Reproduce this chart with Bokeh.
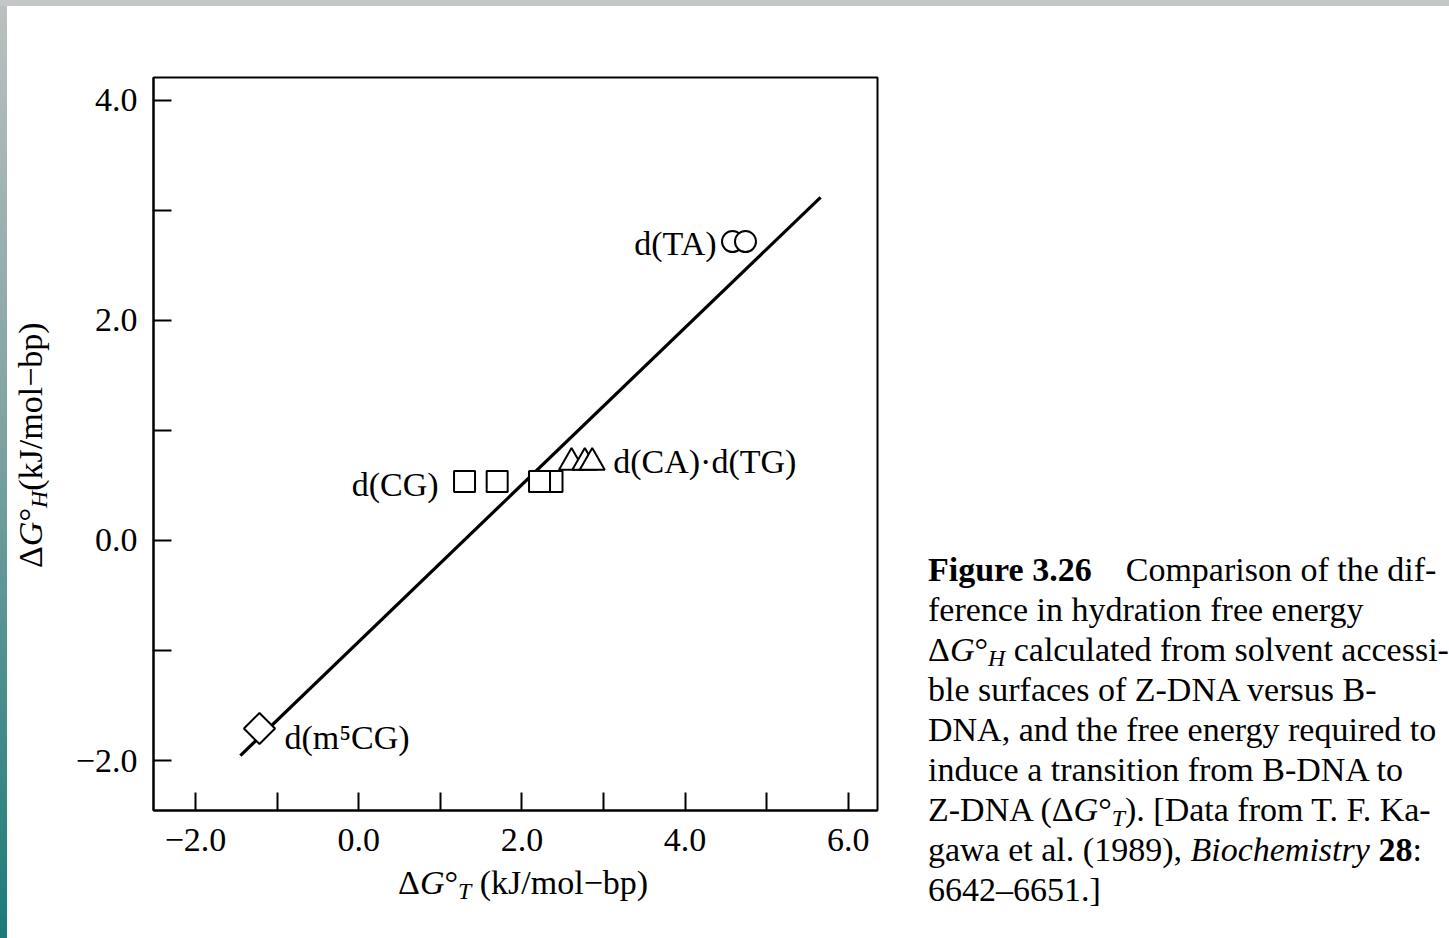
from math import pi
from bokeh.plotting import figure
from bokeh.models import Range1d, FixedTicker, Label, Div
from bokeh.layouts import row, column
from bokeh.embed import file_html
from bokeh.resources import INLINE

# ---- data ----
x_ticks = [-2, -1, 0, 1, 2, 3, 4, 5, 6]
x_tick_labels = ["−2.0", "", "0.0", "", "2.0", "", "4.0", "", "6.0"]
y_ticks = [-2, -1, 0, 1, 2, 3, 4]
y_tick_labels = ["−2.0", "", "0.0", "", "2.0", "", "4.0"]

fit_x = [-1.45, 5.66]
fit_y = [-1.955, 3.12]

m5cg_x = [-1.216]
m5cg_y = [-1.709]
cg_x = [1.297, 1.697, 2.216, 2.369]
cg_y = [0.536, 0.536, 0.536, 0.536]
ca_x = [2.608, 2.771, 2.862]
ca_y = [0.709, 0.709, 0.709]
ta_x = [4.581, 4.740]
ta_y = [2.718, 2.718]

x_title = 'Δ<i>G</i>°<sub class="s"><i>T</i></sub> (kJ/mol−bp)'
y_title = 'Δ<i>G</i>°<sub class="s"><i>H</i></sub>(kJ/mol−bp)'

FONT = "Liberation Serif"
SUBCSS = ('<style>.s{font-size:0.7em;vertical-align:-0.22em;line-height:0}'
          '</style>')

p = figure(output_backend="svg", toolbar_location=None,
           frame_width=724, frame_height=733,
           min_border_left=93, min_border_right=46,
           min_border_top=77, min_border_bottom=58,
           x_range=Range1d(-2.5147, 6.3578), y_range=Range1d(-2.4545, 4.209),
           background_fill_color="white", border_fill_color=None)
p.grid.visible = False
p.outline_line_color = "black"
p.outline_line_width = 2

for ax, ticks, labels in ((p.xaxis[0], x_ticks, x_tick_labels),
                          (p.yaxis[0], y_ticks, y_tick_labels)):
    ax.ticker = FixedTicker(ticks=ticks)
    ax.major_label_overrides = {t: l for t, l in zip(ticks, labels)}
    ax.major_tick_in = 18
    ax.major_tick_out = 0
    ax.minor_tick_line_color = None
    ax.major_tick_line_width = 2
    ax.major_tick_line_color = "black"
    ax.axis_line_width = 2
    ax.axis_line_color = "black"
    ax.major_label_text_font = FONT
    ax.major_label_text_font_size = "34px"
    ax.major_label_text_color = "black"
p.xaxis.major_label_standoff = 18
p.yaxis.major_label_standoff = 16

# fit line
p.line(fit_x, fit_y, line_width=3.2, line_color="black")

# markers (white filled, open look)
p.scatter(m5cg_x, m5cg_y, marker="square", size=22, angle=pi / 4,
          fill_color="white", line_color="black", line_width=2)
p.scatter(cg_x[::-1], cg_y[::-1], marker="square", size=21,
          fill_color="white", line_color="black", line_width=2)
p.scatter(ca_x, ca_y, marker="triangle", size=25,
          fill_color="white", line_color="black", line_width=2)
p.scatter(ta_x, ta_y, marker="circle", size=21,
          fill_color="white", line_color="black", line_width=2)


def lab(text, x, y, xo, yo, align="left"):
    p.add_layout(Label(x=x, y=y, x_offset=xo, y_offset=yo, text=text,
                       text_font=FONT, text_font_size="34px",
                       text_align=align, text_baseline="middle",
                       text_color="black"))


# series labels
lab("d(TA)", ta_x[0], ta_y[0], -16, -2, align="right")
lab("d(CA)·d(TG)", ca_x[-1], ca_y[0], 21, 1)
lab("d(CG)", cg_x[0], cg_y[0], -26, -3, align="right")
lab("d(m⁵CG)", m5cg_x[0], m5cg_y[0], 25, -9)

# y-axis title (rotated HTML text so that G, H can be italic)
ydiv = Div(width=60, height=938, margin=0, text=(
    SUBCSS +
    f'<div style="padding-top:568px;padding-left:11px;height:0">'
    f'<div style="display:inline-block;transform:rotate(-90deg);'
    f'transform-origin:0 0;white-space:nowrap;font-family:\'{FONT}\';'
    f'font-size:34px;line-height:40px;color:black">{y_title}</div></div>'))

# x-axis title
xdiv = Div(width=868, height=60, margin=0, text=(
    SUBCSS +
    f'<div style="padding-left:338px;padding-top:8px;white-space:nowrap;'
    f'font-family:\'{FONT}\';font-size:34px;line-height:14px;color:black">'
    f'{x_title}</div>'))

caption = (
    SUBCSS +
    f'<div style="font-family:\'{FONT}\';font-size:34px;'
    'line-height:40px;color:black;white-space:nowrap;padding-top:550px">'
    '<b>Figure 3.26</b>&nbsp;&nbsp;&nbsp; Comparison of the dif-<br>'
    'ference in hydration free energy<br>'
    'Δ<i>G</i>°<sub class="s"><i>H</i></sub> calculated from solvent accessi-<br>'
    'ble surfaces of Z-DNA versus B-<br>'
    'DNA, and the free energy required to<br>'
    'induce a transition from B-DNA to<br>'
    'Z-DNA (Δ<i>G</i>°<sub class="s"><i>T</i></sub>). [Data from T. F. Ka-<br>'
    'gawa et al. (1989), <i>Biochemistry</i> <b>28</b>:<br>'
    '6642–6651.]'
    '</div>'
)
capdiv = Div(text=caption, width=521, height=938, margin=0)

layout = row(ydiv, column(p, xdiv), capdiv, styles={
    "background": ("linear-gradient(#c3c7c7,#c3c7c7) left top / 100% 6px "
                   "no-repeat, linear-gradient(#bcc0c0,#7fa3a3 45%,#1c7a7a) "
                   "left top / 7px 100% no-repeat, white")})
open("out.html", "w").write(file_html(layout, INLINE))
